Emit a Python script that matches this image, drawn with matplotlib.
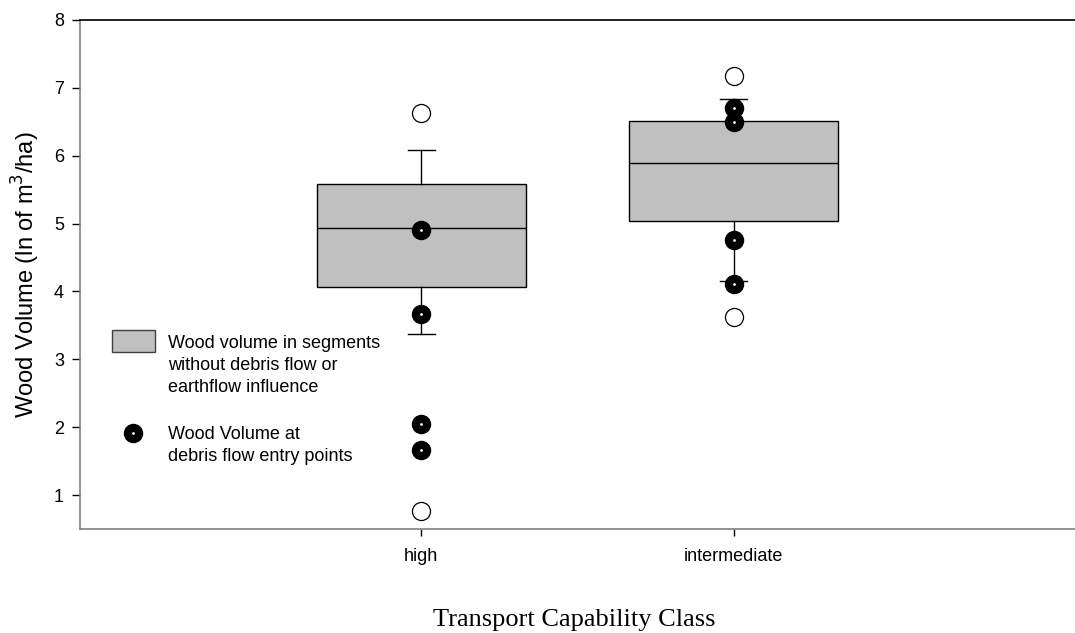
import matplotlib
matplotlib.use("Agg")
import matplotlib.pyplot as plt
from matplotlib.patches import Rectangle
from matplotlib.lines import Line2D

categories = ["high", "intermediate"]
q1 = [4.07, 5.04]
medians = [4.94, 5.89]
q3 = [5.58, 6.51]
whisk_low = [3.38, 4.15]
whisk_high = [6.08, 6.84]
outliers = [[6.63, 0.76], [7.17, 3.62]]
entry_points = [[4.91, 3.67, 2.04, 1.67], [6.70, 6.49, 4.76, 4.11]]
yticks = [1, 2, 3, 4, 5, 6, 7, 8]

W, H = 1075, 633
fig = plt.figure(figsize=(W/100, H/100), dpi=100)
ax = fig.add_axes([80/W, 1-529/H, 1-80/W, (529-20)/H])

positions = [1, 2]
stats = []
for i, c in enumerate(categories):
    stats.append(dict(label=c, med=medians[i], q1=q1[i], q3=q3[i],
                      whislo=whisk_low[i], whishi=whisk_high[i], fliers=outliers[i]))

ax.bxp(stats, positions=positions, widths=0.67, patch_artist=True, capwidths=0.087,
       boxprops=dict(facecolor="#c0c0c0", edgecolor="black", linewidth=1.0),
       medianprops=dict(color="black", linewidth=1.0),
       whiskerprops=dict(color="black", linewidth=1.0),
       capprops=dict(color="black", linewidth=1.0),
       flierprops=dict(marker="o", markerfacecolor="white", markeredgecolor="black",
                       markersize=13, markeredgewidth=0.9, linestyle="none"))

for p, vals in zip(positions, entry_points):
    ax.plot([p]*len(vals), vals, "o", color="black", markersize=13, zorder=5)
    ax.plot([p]*len(vals), vals, "o", color="white", markersize=2, markeredgewidth=0, zorder=6)

ax.set_xlim(-0.093, 3.093)
ax.set_ylim(0.5, 8)
ax.set_yticks(yticks)
ax.set_xticks(positions)
ax.set_xticklabels(categories)

font = "Liberation Sans"
for lab in ax.get_yticklabels() + ax.get_xticklabels():
    lab.set_fontfamily(font)
    lab.set_fontsize(13)
ax.tick_params(axis="y", direction="out", length=5.5, width=1, pad=6, colors="black")
ax.tick_params(axis="x", direction="out", length=5, width=1, pad=9, colors="black")

ax.spines["right"].set_visible(False)
ax.spines["left"].set_color("#808080")
ax.spines["left"].set_linewidth(1.2)
ax.spines["bottom"].set_color("#808080")
ax.spines["bottom"].set_linewidth(1.2)
ax.spines["top"].set_color("black")
ax.spines["top"].set_linewidth(1.2)

fig.text(26/W, 1-275/H, "Wood Volume (ln of m$^3$/ha)", family=font, fontsize=17,
         rotation=90, ha="center", va="center")
fig.text(574/W, 1-626/H, "Transport Capability Class", family="Liberation Serif",
         fontsize=19, ha="center", va="baseline")

# legend
fig.patches.append(Rectangle((112/W, 1-352/H), 43/W, 22/H, transform=fig.transFigure,
                             facecolor="#c0c0c0", edgecolor="#404040", linewidth=1.0))
for j, t in enumerate(["Wood volume in segments", "without debris flow or", "earthflow influence"]):
    fig.text(168/W, 1-(348+21.8*j)/H, t, family=font, fontsize=13, va="baseline", ha="left")
fig.lines.append(Line2D([133/W], [1-433/H], transform=fig.transFigure, marker="o",
                        color="black", markersize=13, linestyle="none"))
fig.lines.append(Line2D([133/W], [1-433/H], transform=fig.transFigure, marker="o",
                        color="white", markersize=2, markeredgewidth=0, linestyle="none"))
for j, t in enumerate(["Wood Volume at", "debris flow entry points"]):
    fig.text(168/W, 1-(439+21.8*j)/H, t, family=font, fontsize=13, va="baseline", ha="left")

fig.savefig("out.png", dpi=100)
